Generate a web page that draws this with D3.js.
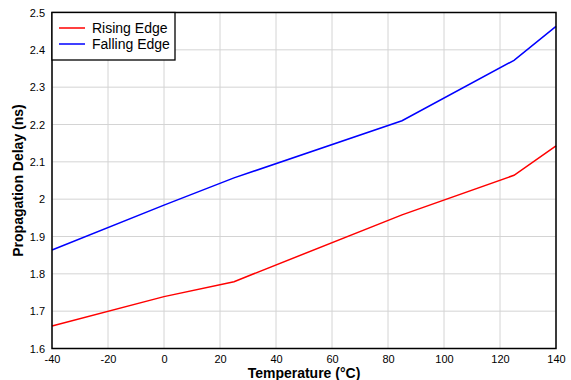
<!DOCTYPE html>
<html>
<head>
<meta charset="utf-8">
<script src="https://cdn.jsdelivr.net/npm/d3@7"></script>
<style>
  body { margin: 0; background: #fff; }
  svg { font-family: "Liberation Sans", Arial, sans-serif; }
</style>
</head>
<body>
<div id="chart"></div>
<script>
// data
const temps = [-40, 0, 25, 85, 125, 140];
const rising = [1.66, 1.739, 1.779, 1.958, 2.064, 2.143];
const falling = [1.864, 1.984, 2.057, 2.21, 2.372, 2.463];
const xTicks = [-40, -20, 0, 20, 40, 60, 80, 100, 120, 140];
const yTicks = [1.6, 1.7, 1.8, 1.9, 2, 2.1, 2.2, 2.3, 2.4, 2.5];
const seriesNames = ['Rising Edge', 'Falling Edge'];
const seriesColors = ['#ff0000', '#0000ff'];

let w = 571, h = 380,
    pL = 52, pT = 12.5, pR = 556, pB = 348.5;

let svg = d3.select('#chart')
    .append('svg')
    .attr('width', w)
    .attr('height', h);

const x = d3.scaleLinear().domain([-40, 140]).range([pL, pR]);
const y = d3.scaleLinear().domain([1.6, 2.5]).range([pB, pT]);

// grid
svg.append('g')
    .selectAll('line')
    .data(xTicks).enter()
    .append('line')
    .attr('x1', d => x(d)).attr('x2', d => x(d))
    .attr('y1', pT).attr('y2', pB)
    .attr('stroke', '#d4d4d4').attr('stroke-width', 1);
svg.append('g')
    .selectAll('line')
    .data(yTicks).enter()
    .append('line')
    .attr('x1', pL).attr('x2', pR)
    .attr('y1', d => y(d)).attr('y2', d => y(d))
    .attr('stroke', '#d4d4d4').attr('stroke-width', 1);

// axes (labels only, frame drawn below)
let xAxis = svg.append('g')
    .attr('transform', `translate(0,${pB})`)
    .call(d3.axisBottom(x).tickValues(xTicks).tickSize(0).tickPadding(7).tickFormat(d => String(d)));
let yAxis = svg.append('g')
    .attr('transform', `translate(${pL},0)`)
    .call(d3.axisLeft(y).tickValues(yTicks).tickSize(0).tickPadding(7).tickFormat(d => String(+d.toFixed(1))));
[xAxis, yAxis].forEach(a => {
    a.select('.domain').remove();
    a.selectAll('text')
        .attr('font-size', 11)
        .attr('font-family', '"Liberation Sans", Arial, sans-serif')
        .attr('fill', '#000');
});

// lines
let line = d3.line().x((d, i) => x(temps[i])).y(d => y(d));
[rising, falling].forEach((s, k) => {
    svg.append('path')
        .datum(s)
        .attr('d', line)
        .attr('fill', 'none')
        .attr('stroke', seriesColors[k])
        .attr('stroke-width', 1.5);
});

// frame
svg.append('rect')
    .attr('x', pL).attr('y', pT)
    .attr('width', pR - pL).attr('height', pB - pT)
    .attr('fill', 'none')
    .attr('stroke', '#000')
    .attr('stroke-width', 1.5);

// legend
let lg = svg.append('g');
lg.append('rect')
    .attr('x', pL).attr('y', pT)
    .attr('width', 123).attr('height', 47.5)
    .attr('fill', '#fff')
    .attr('stroke', '#000')
    .attr('stroke-width', 1.3);
seriesNames.forEach((n, i) => {
    let yy = pT + 15.5 + i * 16;
    lg.append('line')
        .attr('x1', pL + 7).attr('x2', pL + 33)
        .attr('y1', yy).attr('y2', yy)
        .attr('stroke', seriesColors[i]).attr('stroke-width', 1.5);
    lg.append('text')
        .attr('x', pL + 40).attr('y', yy + 5)
        .attr('font-size', 14)
        .text(n);
});

// axis titles
svg.append('text')
    .attr('x', (pL + pR) / 2).attr('y', 378)
    .attr('text-anchor', 'middle')
    .attr('font-size', 14)
    .attr('font-weight', 'bold')
    .text('Temperature (°C)');
svg.append('text')
    .attr('transform', `translate(23,${(pT + pB) / 2}) rotate(-90)`)
    .attr('text-anchor', 'middle')
    .attr('font-size', 14)
    .attr('font-weight', 'bold')
    .text('Propagation Delay (ns)');
</script>
</body>
</html>
